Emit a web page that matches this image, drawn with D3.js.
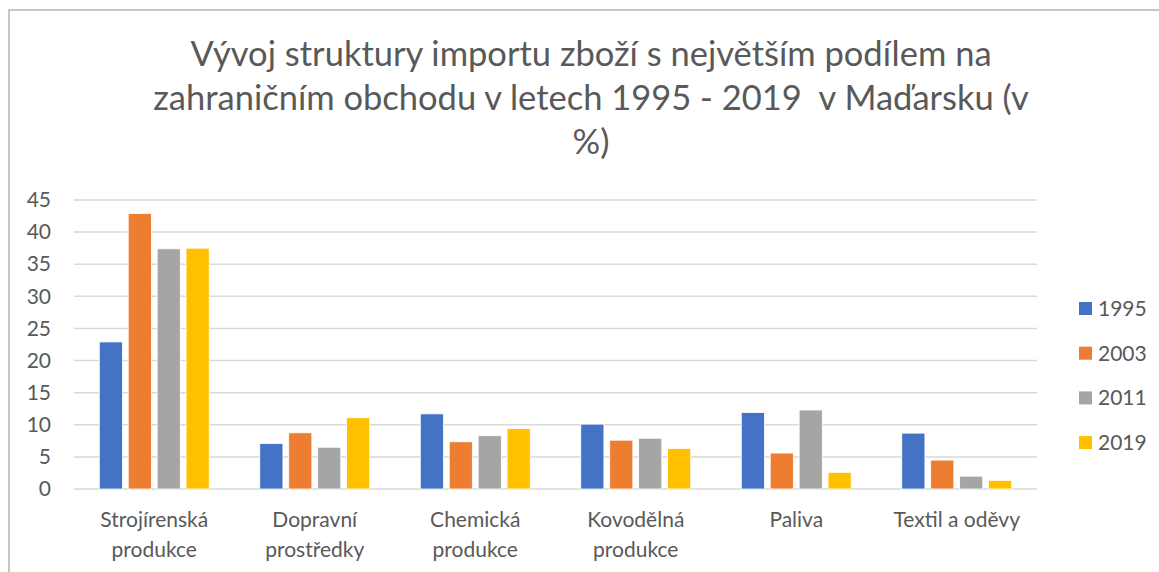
<html>
<head>
  <meta charset="utf-8">
  <title>Vývoj struktury importu zboží - Maďarsko</title>
  <script src="https://cdn.jsdelivr.net/npm/d3@7"></script>
  <style>
    body { margin: 0; background: #fff; }
    text { font-family: Lato, "Open Sans", sans-serif; fill: #595959; }
  </style>
</head>
<body>
<div id="chart"></div>
<script>
// data (in %)
var categories = ["Strojírenská produkce", "Dopravní prostředky", "Chemická produkce",
                  "Kovodělná produkce", "Paliva", "Textil a oděvy"];
var years = ["1995", "2003", "2011", "2019"];
var v1995 = [22.9, 7.1, 11.7, 10.1, 11.9, 8.7];
var v2003 = [42.9, 8.75, 7.35, 7.6, 5.6, 4.5];
var v2011 = [37.4, 6.5, 8.3, 7.9, 12.3, 2.0];
var v2019 = [37.5, 11.1, 9.4, 6.3, 2.6, 1.35];
var yTicks = [0, 5, 10, 15, 20, 25, 30, 35, 40, 45];
var titleLines = ["Vývoj struktury importu zboží s největším podílem na",
                  "zahraničním obchodu v letech 1995 - 2019  v Maďarsku (v",
                  "%)"];

var series = [v1995, v2003, v2011, v2019];
var colors = ["#4472C4", "#ED7D31", "#A5A5A5", "#FFC000"];

var width = 1159, height = 572;
var plot = {left: 74, right: 1037, top: 200, bottom: 489};

var svg = d3.select("#chart")
  .append("svg")
    .attr("width", width)
    .attr("height", height);

// outer frame of the chart area
svg.append("rect")
  .attr("x", 9).attr("y", 10)
  .attr("width", 1300).attr("height", 700)
  .attr("fill", "none")
  .attr("stroke", "#b4b4b4")
  .attr("stroke-width", 1.5);

// title
svg.append("g").selectAll("text")
  .data(titleLines)
  .enter().append("text")
    .attr("x", 591)
    .attr("y", function(d, i) { return 66 + i * 44; })
    .attr("text-anchor", "middle")
    .attr("font-size", "34.5px")
    .style("white-space", "pre")
    .text(function(d) { return d; });

var x0 = d3.scaleBand()
  .domain(categories)
  .range([plot.left, plot.right])
  .paddingInner(0.315)
  .paddingOuter(0.1575);

var x1 = d3.scaleBand()
  .domain(years)
  .range([0, x0.bandwidth()])
  .paddingInner(0.2);

var y = d3.scaleLinear()
  .domain([0, 45])
  .range([plot.bottom, plot.top]);

// gridlines
svg.append("g").selectAll("line")
  .data(yTicks)
  .enter().append("line")
    .attr("x1", plot.left)
    .attr("x2", plot.right)
    .attr("y1", function(d) { return y(d); })
    .attr("y2", function(d) { return y(d); })
    .attr("stroke", "#d9d9d9")
    .attr("stroke-width", 1.5);

// y axis labels
var yAxis = svg.append("g")
  .attr("transform", "translate(" + (plot.left - 12) + ",0)")
  .call(d3.axisLeft(y).tickValues(yTicks).tickSize(0).tickPadding(11));
yAxis.select(".domain").remove();
yAxis.selectAll("text")
  .attr("font-size", "21px")
  .attr("font-family", "Lato, sans-serif")
  .attr("fill", "#595959");

// bars
var groups = svg.append("g").selectAll("g")
  .data(categories)
  .enter().append("g")
    .attr("transform", function(d) { return "translate(" + x0(d) + ",0)"; });

groups.selectAll("rect")
  .data(function(d, ci) {
    return years.map(function(yr, si) { return {year: yr, value: series[si][ci], si: si}; });
  })
  .enter().append("rect")
    .attr("x", function(d) { return x1(d.year); })
    .attr("y", function(d) { return y(d.value); })
    .attr("width", x1.bandwidth())
    .attr("height", function(d) { return y(0) - y(d.value); })
    .attr("fill", function(d) { return colors[d.si]; })
    .attr("stroke", "#fff")
    .attr("stroke-width", 0.8);

// x axis labels (wrapped)
var xAxis = svg.append("g")
  .attr("transform", "translate(0," + plot.bottom + ")")
  .call(d3.axisBottom(x0).tickSize(0).tickPadding(23));
xAxis.select(".domain").remove();
xAxis.selectAll("text")
  .attr("font-size", "21px")
  .attr("font-family", "Lato, sans-serif")
  .attr("fill", "#595959")
  .call(wrap, 150);

function wrap(text, w) {
  text.each(function() {
    var t = d3.select(this),
        words = t.text().split(/\s+/).reverse(),
        word, line = [], lineNo = 0,
        yy = t.attr("y"), dy = parseFloat(t.attr("dy")) || 0;
    var tspan = t.text(null).append("tspan").attr("x", 0).attr("y", yy).attr("dy", dy + "em");
    while ((word = words.pop())) {
      line.push(word);
      tspan.text(line.join(" "));
      if (tspan.node().getComputedTextLength() > w && line.length > 1) {
        line.pop();
        tspan.text(line.join(" "));
        line = [word];
        tspan = t.append("tspan").attr("x", 0).attr("y", yy)
          .attr("dy", (++lineNo * 1.43 + dy) + "em").text(word);
      }
    }
  });
}

// legend
var legend = svg.append("g").selectAll("g")
  .data(years)
  .enter().append("g")
    .attr("transform", function(d, i) { return "translate(1079," + (308.5 + i * 44.7) + ")"; });

legend.append("rect")
  .attr("x", 0).attr("y", -6.5)
  .attr("width", 13).attr("height", 13)
  .attr("fill", function(d, i) { return colors[i]; });

legend.append("text")
  .attr("x", 19)
  .attr("y", 0)
  .attr("dy", "0.35em")
  .attr("font-size", "21px")
  .text(function(d) { return d; });
</script>
</body>
</html>
